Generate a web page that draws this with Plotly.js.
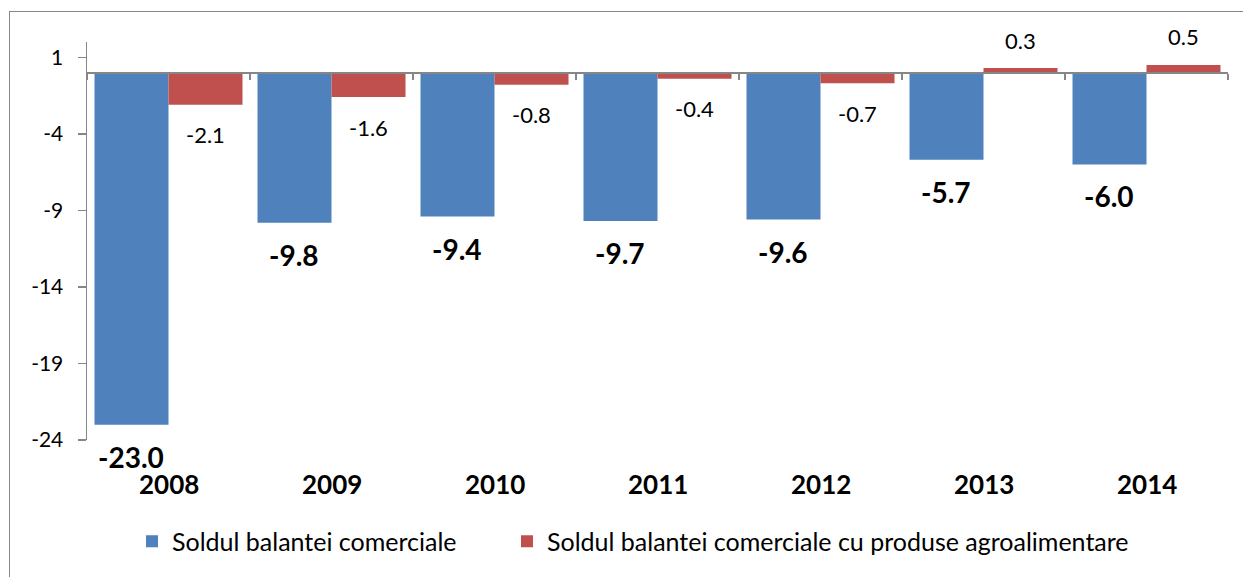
<!DOCTYPE html>
<html>
<head>
<meta charset="utf-8">
<script src="https://cdn.plot.ly/plotly-3.0.1.min.js"></script>
<style>
  html, body { margin: 0; padding: 0; background: #fff; overflow: hidden; }
  #chart { position: absolute; left: 0; top: 0; width: 1243px; height: 577px; }
  #frame { position: absolute; left: 9px; top: 11px; width: 1400px; height: 700px;
           border-left: 1.5px solid #868686; border-top: 1.5px solid #868686; pointer-events: none; }
</style>
</head>
<body>
<div id="chart"></div>
<div id="frame"></div>
<script>
const years = ['2008', '2009', '2010', '2011', '2012', '2013', '2014'];
const totalBalance = [-23.0, -9.8, -9.4, -9.7, -9.6, -5.7, -6.0];
const agroBalance = [-2.1, -1.6, -0.8, -0.4, -0.7, 0.3, 0.5];
const seriesNames = ['Soldul balantei comerciale', 'Soldul balantei comerciale cu produse agroalimentare'];
const yTicks = [1, -4, -9, -14, -19, -24];

const FONT = 'Lato, Carlito, Calibri, "Open Sans", sans-serif';
const BLUE = '#4F81BD';
const RED = '#C0504D';
const AXIS = '#868686';

const W = 1243, H = 577;
const margin = {l: 87, r: 15, t: 42, b: 135};
const yRange = [-24, 2];
const bargap = 0.092;
const plotW = W - margin.l - margin.r;
const catW = plotW / years.length;
const barShift = catW * (1 - bargap) / 4;
const zeroPos = (0 - yRange[0]) / (yRange[1] - yRange[0]);

const traces = [
  {type: 'bar', name: seriesNames[0], x: years, y: totalBalance,
   marker: {color: BLUE}, hoverinfo: 'x+y', legend: 'legend'},
  {type: 'bar', name: seriesNames[1], x: years, y: agroBalance,
   marker: {color: RED}, hoverinfo: 'x+y', legend: 'legend2'}
];

const annotations = [];
years.forEach((yr, i) => {
  const v = totalBalance[i];
  annotations.push({x: i, y: v, xref: 'x', yref: 'y', text: v.toFixed(1),
    showarrow: false, xshift: -barShift, yshift: v < 0 ? -32 : 32,
    xanchor: 'center', yanchor: 'middle',
    font: {family: FONT, size: 28, color: '#000', weight: 'bold'}});
  const a = agroBalance[i];
  annotations.push({x: i, y: a, xref: 'x', yref: 'y', text: a.toFixed(1),
    showarrow: false, xshift: barShift, yshift: a < 0 ? -30 : 28,
    xanchor: 'center', yanchor: 'middle',
    font: {family: FONT, size: 22, color: '#000'}});
  annotations.push({x: i, y: 0, xref: 'x', yref: 'paper', text: yr,
    showarrow: false, yshift: -44, xanchor: 'center', yanchor: 'middle',
    font: {family: FONT, size: 26, color: '#000', weight: 'bold'}});
});

const legendBase = {orientation: 'h', xanchor: 'left', y: -0.255, yanchor: 'middle',
  font: {family: FONT, size: 25, color: '#000'}, bgcolor: 'rgba(0,0,0,0)'};

const layout = {
  width: W, height: H,
  margin: margin,
  paper_bgcolor: '#fff', plot_bgcolor: '#fff',
  font: {family: FONT, color: '#000', size: 21},
  barmode: 'group', bargap: bargap, bargroupgap: 0,
  showlegend: true,
  legend: Object.assign({}, legendBase, {x: (132 - margin.l) / plotW}),
  legend2: Object.assign({}, legendBase, {x: (507 - margin.l) / plotW}),
  xaxis: {type: 'category', categoryorder: 'array', categoryarray: years,
          range: [-0.5, years.length - 0.5], autorange: false,
          anchor: 'free', position: zeroPos,
          showline: true, linecolor: AXIS, linewidth: 2,
          ticks: 'outside', ticklen: 6, tickwidth: 1.5, tickcolor: AXIS, tickson: 'boundaries',
          showticklabels: false, showgrid: false, zeroline: false, fixedrange: true},
  yaxis: {range: yRange, autorange: false, tickvals: yTicks, ticktext: yTicks.map(String),
          showline: true, linecolor: AXIS, linewidth: 1.5,
          ticks: 'outside', ticklen: 8, tickwidth: 1.5, tickcolor: AXIS,
          ticklabelstandoff: 10,
          tickfont: {family: FONT, size: 21, color: '#000'},
          showgrid: false, zeroline: false, fixedrange: true},
  annotations: annotations
};

Plotly.newPlot('chart', traces, layout, {displayModeBar: false, staticPlot: true});
</script>
</body>
</html>
